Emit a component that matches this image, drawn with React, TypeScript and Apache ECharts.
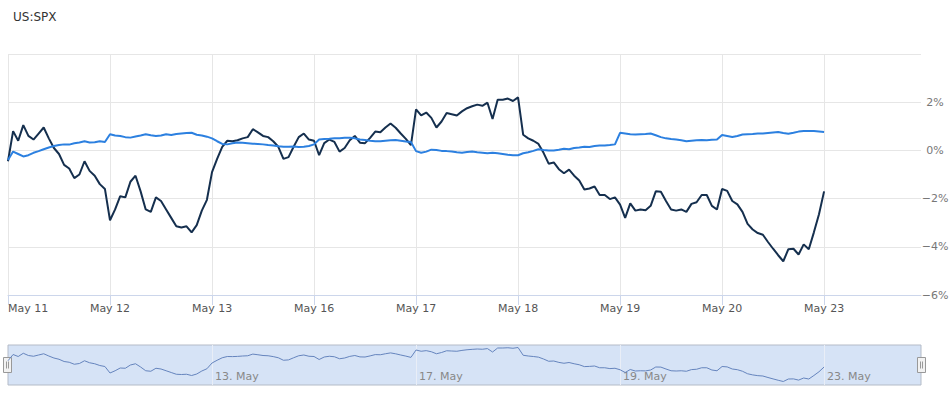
import React, { useEffect, useRef } from 'react';
import * as echarts from 'echarts';

const chartTitle = 'US:SPX';
const dayLabels = ['May 11', 'May 12', 'May 13', 'May 16', 'May 17', 'May 18', 'May 19', 'May 20', 'May 23'];
const navLabels = ['11. May', '12. May', '13. May', '16. May', '17. May', '18. May', '19. May', '20. May', '23. May'];
const navShownDays = [2, 4, 6, 8];
const pointsPerDay = 20;
const slotCount = 180;
const yTicks = { min: -6, max: 4, interval: 2 };

// S&P 500 intraday % change (dark line), 20 samples per trading day
const spxMay11 = [-0.45, 0.8, 0.4, 1.05, 0.6, 0.45, 0.7, 0.95, 0.5, 0.1, -0.15, -0.6, -0.75, -1.15, -1.0, -0.45, -0.85, -1.05, -1.4, -1.6];
const spxMay12 = [-2.9, -2.45, -1.9, -1.95, -1.3, -1.05, -1.7, -2.45, -2.55, -1.95, -2.1, -2.45, -2.8, -3.15, -3.2, -3.15, -3.4, -3.1, -2.5, -2.05];
const spxMay13 = [-0.9, -0.35, 0.15, 0.4, 0.38, 0.42, 0.5, 0.55, 0.88, 0.75, 0.6, 0.55, 0.38, 0.15, -0.35, -0.28, 0.15, 0.55, 0.7, 0.45];
const spxMay16 = [0.4, -0.2, 0.3, 0.45, 0.35, -0.05, 0.1, 0.42, 0.6, 0.32, 0.3, 0.52, 0.78, 0.75, 0.95, 1.12, 0.94, 0.7, 0.48, 0.22];
const spxMay17 = [1.7, 1.45, 1.57, 1.35, 0.95, 1.2, 1.55, 1.5, 1.45, 1.62, 1.75, 1.83, 1.9, 1.85, 1.98, 1.3, 2.1, 2.1, 2.15, 2.05];
const spxMay18 = [2.2, 0.65, 0.5, 0.4, 0.27, -0.1, -0.55, -0.5, -0.78, -0.95, -0.8, -1.05, -1.25, -1.62, -1.58, -1.5, -1.85, -1.85, -2.02, -1.95];
const spxMay19 = [-2.25, -2.8, -2.2, -2.5, -2.45, -2.48, -2.3, -1.7, -1.72, -2.1, -2.45, -2.5, -2.45, -2.55, -2.22, -2.15, -1.85, -1.85, -2.3, -2.45];
const spxMay20 = [-1.6, -1.68, -2.1, -2.24, -2.55, -3.05, -3.28, -3.43, -3.5, -3.8, -4.08, -4.35, -4.6, -4.1, -4.08, -4.32, -3.9, -4.1, -3.4, -2.65];
const spxMay23 = [-1.7];

// comparison series % change (blue line)
const cmpMay11 = [-0.4, -0.05, -0.15, -0.25, -0.2, -0.1, -0.03, 0.05, 0.12, 0.18, 0.22, 0.25, 0.24, 0.3, 0.33, 0.38, 0.33, 0.34, 0.38, 0.35];
const cmpMay12 = [0.67, 0.62, 0.6, 0.55, 0.53, 0.58, 0.62, 0.67, 0.63, 0.6, 0.62, 0.67, 0.64, 0.68, 0.7, 0.72, 0.73, 0.65, 0.62, 0.57];
const cmpMay13 = [0.5, 0.38, 0.27, 0.25, 0.3, 0.33, 0.32, 0.3, 0.28, 0.27, 0.25, 0.22, 0.2, 0.17, 0.15, 0.15, 0.16, 0.14, 0.15, 0.18];
const cmpMay16 = [0.25, 0.45, 0.47, 0.48, 0.5, 0.5, 0.52, 0.53, 0.5, 0.45, 0.43, 0.4, 0.38, 0.38, 0.4, 0.42, 0.43, 0.4, 0.37, 0.35];
const cmpMay17 = [-0.03, -0.1, -0.05, 0.03, 0.02, -0.02, -0.03, -0.05, -0.08, -0.1, -0.07, -0.05, -0.08, -0.1, -0.12, -0.1, -0.12, -0.15, -0.18, -0.2];
const cmpMay18 = [-0.2, -0.12, -0.08, -0.02, 0.05, 0.02, 0.0, 0.0, 0.03, 0.07, 0.05, 0.1, 0.12, 0.15, 0.14, 0.18, 0.2, 0.2, 0.22, 0.25];
const cmpMay19 = [0.73, 0.7, 0.67, 0.66, 0.67, 0.68, 0.7, 0.63, 0.55, 0.5, 0.47, 0.45, 0.42, 0.38, 0.4, 0.42, 0.43, 0.42, 0.44, 0.45];
const cmpMay20 = [0.64, 0.6, 0.56, 0.6, 0.66, 0.67, 0.68, 0.7, 0.7, 0.72, 0.74, 0.76, 0.72, 0.69, 0.73, 0.78, 0.8, 0.8, 0.8, 0.78];
const cmpMay23 = [0.76];

const spxSeries = [
  ...spxMay11, ...spxMay12, ...spxMay13, ...spxMay16, ...spxMay17,
  ...spxMay18, ...spxMay19, ...spxMay20, ...spxMay23,
];
const cmpSeries = [
  ...cmpMay11, ...cmpMay12, ...cmpMay13, ...cmpMay16, ...cmpMay17,
  ...cmpMay18, ...cmpMay19, ...cmpMay20, ...cmpMay23,
];

const FONT = 'DejaVu Sans';

export default function App() {
  const ref = useRef<HTMLDivElement>(null);

  useEffect(() => {
    if (!ref.current) return;
    const chart = echarts.init(ref.current, undefined, { renderer: 'svg' });
    const slots = Array.from({ length: slotCount }, (_, i) => String(i));
    const isDayStart = (i: number) => i % pointsPerDay === 0 && i / pointsPerDay < dayLabels.length;
    const isNavDay = (i: number) => i % pointsPerDay === 0 && navShownDays.includes(i / pointsPerDay);

    const handle = (x: number, y: number) => ({
      type: 'group',
      children: [
        { type: 'rect', shape: { x, y, width: 8, height: 15 }, style: { fill: '#f2f2f2', stroke: '#999999', lineWidth: 1 } },
        { type: 'line', shape: { x1: x + 3, y1: y + 4, x2: x + 3, y2: y + 11 }, style: { stroke: '#999999', lineWidth: 1 } },
        { type: 'line', shape: { x1: x + 5, y1: y + 4, x2: x + 5, y2: y + 11 }, style: { stroke: '#999999', lineWidth: 1 } },
      ],
    });

    chart.setOption({
      animation: false,
      textStyle: { fontFamily: FONT },
      title: {
        text: chartTitle,
        left: 8,
        top: 6,
        textStyle: { fontFamily: FONT, fontSize: 12, fontWeight: 'normal', color: '#333333' },
      },
      grid: [
        { left: 8, right: 30, top: 54, bottom: 98, outerBoundsMode: 'none', containLabel: false },
        {
          left: 8, right: 30, top: 345, height: 40, outerBoundsMode: 'none', containLabel: false,
          show: true, backgroundColor: '#d6e3f6', borderColor: '#b4bbc7', borderWidth: 1,
        },
      ],
      xAxis: [
        {
          type: 'category',
          gridIndex: 0,
          data: slots,
          boundaryGap: false,
          axisLine: { show: true, onZero: false, lineStyle: { color: '#ccd6eb', width: 1 } },
          axisTick: { show: true, interval: (i: number) => isDayStart(i), length: 10, lineStyle: { color: '#ccd6eb' } },
          splitLine: { show: true, interval: (i: number) => isDayStart(i), lineStyle: { color: '#e6e6e6', width: 1 } },
          axisLabel: {
            interval: (i: number) => isDayStart(i),
            formatter: (_v: string, i: number) => dayLabels[i / pointsPerDay] ?? '',
            color: '#555555',
            fontSize: 11,
            fontFamily: FONT,
            margin: 8,
            alignMinLabel: 'left',
          },
        },
        {
          type: 'category',
          gridIndex: 1,
          data: slots,
          boundaryGap: false,
          axisLine: { show: false, onZero: false },
          axisTick: { show: false },
          splitLine: { show: true, interval: (i: number) => isNavDay(i), lineStyle: { color: '#e9eef7', width: 1 } },
          axisLabel: {
            inside: true,
            interval: (i: number) => isNavDay(i),
            formatter: (_v: string, i: number) => navLabels[i / pointsPerDay] ?? '',
            color: '#888888',
            fontSize: 11,
            fontFamily: FONT,
            align: 'left',
            verticalAlign: 'middle',
            padding: [0, 0, 0, 3],
            margin: 9,
          },
        },
      ],
      yAxis: [
        {
          type: 'value',
          gridIndex: 0,
          position: 'right',
          min: yTicks.min,
          max: yTicks.max,
          interval: yTicks.interval,
          axisLine: { show: false },
          axisTick: { show: false },
          splitLine: { show: true, lineStyle: { color: '#e6e6e6', width: 1 } },
          axisLabel: {
            formatter: (v: number) => (v === yTicks.max ? '' : (v < 0 ? '\u2212' + Math.abs(v) : String(v)) + '%'),
            color: '#777777',
            fontSize: 11,
            fontFamily: FONT,
            align: 'center',
            margin: 14,
          },
        },
        {
          type: 'value',
          gridIndex: 1,
          min: -5.3,
          max: 2.7,
          show: false,
          splitLine: { show: false },
        },
      ],
      series: [
        {
          name: 'SPX',
          type: 'line',
          xAxisIndex: 0,
          yAxisIndex: 0,
          data: spxSeries,
          showSymbol: false,
          symbol: 'none',
          lineStyle: { color: '#152f4e', width: 2 },
          z: 2,
        },
        {
          name: 'Compare',
          type: 'line',
          xAxisIndex: 0,
          yAxisIndex: 0,
          data: cmpSeries,
          showSymbol: false,
          symbol: 'none',
          lineStyle: { color: '#2c80e0', width: 2 },
          z: 3,
        },
        {
          name: 'Navigator',
          type: 'line',
          xAxisIndex: 1,
          yAxisIndex: 1,
          data: spxSeries,
          showSymbol: false,
          symbol: 'none',
          lineStyle: { color: '#6584bd', width: 1 },
          z: 2,
        },
      ],
      graphic: [handle(3.5, 357.5), handle(917.5, 357.5)],
    });

    return () => chart.dispose();
  }, []);

  return <div ref={ref} style={{ position: 'absolute', left: 0, top: 0, width: 951, height: 393 }} />;
}
